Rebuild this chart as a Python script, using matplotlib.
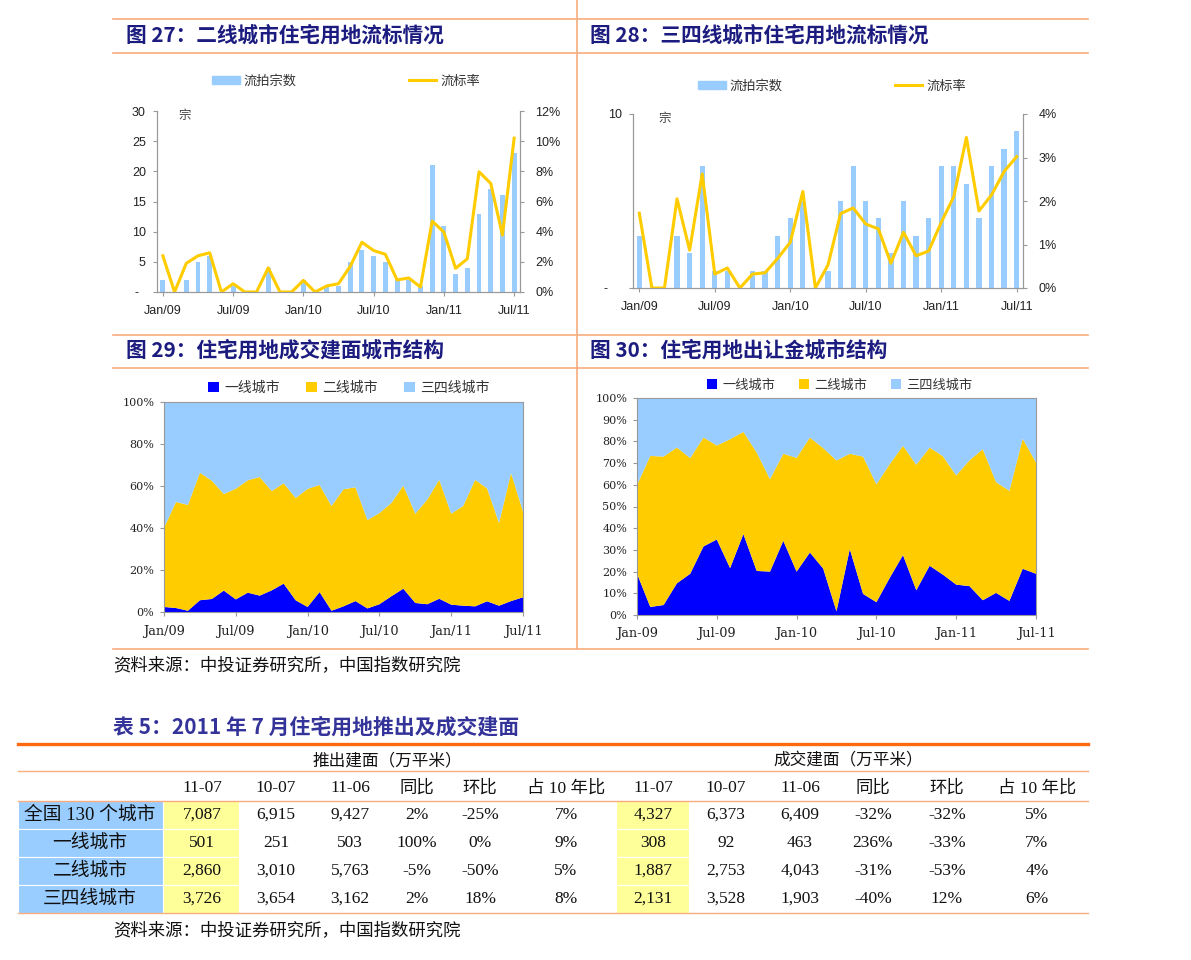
import matplotlib
matplotlib.use('Agg')
import matplotlib.pyplot as plt
from matplotlib.patches import Rectangle, Patch
from matplotlib.lines import Line2D

plt.rcParams['font.family'] = ['Noto Sans CJK SC', 'DejaVu Sans']
plt.rcParams['axes.unicode_minus'] = False

W, H = 1191, 960

# ---- data ----
months = list(range(31))
tick_pos = [0, 6, 12, 18, 24, 30]
ticks_slash = ['Jan/09', 'Jul/09', 'Jan/10', 'Jul/10', 'Jan/11', 'Jul/11']
ticks_dash = ['Jan-09', 'Jul-09', 'Jan-10', 'Jul-10', 'Jan-11', 'Jul-11']

# fig 27: tier-2 cities, failed auctions (count) and failure rate (%)
t2_count = [2, 0, 2, 5, 6, 0, 1, 0, 0, 4, 0, 0, 2, 0, 1, 1, 5, 7, 6, 5, 2, 2, 1,
            21, 11, 3, 4, 13, 17, 16, 23]
t2_rate = [2.4, 0, 1.9, 2.4, 2.6, 0, 0.55, 0, 0, 1.6, 0, 0, 0.77, 0, 0.4, 0.55,
           1.7, 3.3, 2.75, 2.5, 0.8, 0.93, 0.33, 4.7, 3.97, 1.57, 2.2, 7.97,
           7.2, 3.77, 10.2]

# fig 28: tier-3/4 cities
t34_count = [3, 0, 0, 3, 2, 7, 1, 1, 0, 1, 1, 3, 4, 5, 0, 1, 5, 7, 5, 4, 2, 5, 3,
             4, 7, 7, 6, 4, 7, 8, 9]
t34_rate = [1.72, 0, 0, 2.05, 0.87, 2.62, 0.32, 0.46, 0, 0.32, 0.35, 0.68, 1.05,
            2.22, 0, 0.53, 1.71, 1.84, 1.47, 1.36, 0.57, 1.28, 0.74, 0.85, 1.51,
            2.1, 3.46, 1.77, 2.14, 2.68, 3.02]

# fig 29: share of transacted floor area (%)
area_tier1 = [2.4, 1.9, 0.6, 5.6, 6.2, 10.2, 6.0, 9.2, 7.8, 10.3, 13.5, 5.6, 2.4,
              9.5, 0.6, 2.7, 5.2, 1.7, 3.7, 7.5, 11.1, 4.3, 3.7, 6.3, 3.5, 3.0,
              2.7, 5.1, 3.0, 5.2, 7.0]
area_tier2 = [37.6, 50.5, 50.4, 60.7, 56.3, 46.0, 52.7, 53.5, 56.5, 47.3, 47.8,
              48.7, 56.2, 51.0, 49.9, 55.7, 54.2, 42.1, 43.4, 44.4, 49.1, 42.5,
              49.8, 56.7, 43.3, 47.5, 60.2, 53.8, 39.4, 61.0, 40.9]
area_tier34 = [60.0, 47.6, 49.0, 33.7, 37.5, 43.8, 41.3, 37.3, 35.7, 42.4, 38.7,
               45.7, 41.4, 39.5, 49.5, 41.6, 40.6, 56.2, 52.9, 48.1, 39.8, 53.2,
               46.5, 37.0, 53.2, 49.5, 37.1, 41.1, 57.6, 33.8, 52.1]

# fig 30: share of land transfer fees (%)
fee_tier1 = [19.1, 3.7, 4.6, 14.6, 19.0, 31.6, 34.8, 21.6, 37.3, 20.3, 20.0, 34.2,
             20.0, 28.8, 21.4, 1.7, 30.4, 9.7, 5.9, 17.1, 27.6, 11.4, 22.7, 18.6,
             14.0, 13.3, 6.8, 10.2, 6.5, 21.3, 19.0]
fee_tier2 = [40.8, 69.6, 68.4, 62.6, 53.3, 50.2, 43.3, 59.4, 47.1, 54.6, 42.6, 40.1,
             52.4, 53.0, 55.5, 69.5, 43.9, 63.3, 54.3, 52.4, 50.4, 57.8, 54.5, 54.6,
             50.3, 58.0, 69.6, 51.0, 50.7, 59.9, 51.3]
fee_tier34 = [40.1, 26.7, 27.0, 22.8, 27.7, 18.2, 21.9, 19.0, 15.6, 25.1, 37.4, 25.7,
              27.6, 18.2, 23.1, 28.8, 25.7, 27.0, 39.8, 30.5, 22.0, 30.8, 22.8, 26.8,
              35.7, 28.7, 23.6, 38.8, 42.8, 18.8, 29.7]

# table 5
row_names = ['全国 130 个城市', '一线城市', '二线城市', '三四线城市']
col_heads = ['11-07', '10-07', '11-06', '同比', '环比', '占 10 年比']
sup_1107 = [7087, 501, 2860, 3726]
sup_1007 = [6915, 251, 3010, 3654]
sup_1106 = [9427, 503, 5763, 3162]
sup_yoy = [2, 100, -5, 2]
sup_mom = [-25, 0, -50, 18]
sup_share = [7, 9, 5, 8]
deal_1107 = [4327, 308, 1887, 2131]
deal_1007 = [6373, 92, 2753, 3528]
deal_1106 = [6409, 463, 4043, 1903]
deal_yoy = [-32, 236, -31, -40]
deal_mom = [-32, -33, -53, 12]
deal_share = [5, 7, 4, 6]

BAR = '#99CCFF'
YEL = '#FFCC00'
BLUE = '#0000FF'
ORANGE_THIN = '#F7AD7E'
ORANGE_THICK = '#FF6A10'
NAVY = '#1C1C80'
GRAY = '#999999'
SANS = ['Liberation Sans', 'Noto Sans CJK SC']
SERIF = ['DejaVu Serif', 'Noto Sans CJK SC']
TSERIF = ['Liberation Serif', 'Noto Sans CJK SC']


def box(x0, y0, x1, y1):
    return [x0 / W, 1 - y1 / H, (x1 - x0) / W, (y1 - y0) / H]


fig = plt.figure(figsize=(W / 100, H / 100), dpi=100)

# page overlay in pixel coordinates
bg = fig.add_axes([0, 0, 1, 1], zorder=0)
bg.set_xlim(0, W)
bg.set_ylim(H, 0)
bg.axis('off')

for y in [19, 53, 335, 368, 649]:
    bg.plot([113, 1088], [y, y], color=ORANGE_THIN, lw=1.2)
bg.plot([577, 577], [0, 649], color=ORANGE_THIN, lw=1.2)

titles = [(126, 35, '图 27：二线城市住宅用地流标情况'),
          (590, 35, '图 28：三四线城市住宅用地流标情况'),
          (126, 350, '图 29：住宅用地成交建面城市结构'),
          (590, 350, '图 30：住宅用地出让金城市结构')]
for x, y, t in titles:
    bg.text(x, y, t, fontsize=14.9, fontweight='bold', color=NAVY,
            ha='left', va='center')

bg.text(113, 665, '资料来源：中投证券研究所，中国指数研究院', fontsize=12.5,
        color='#111111', ha='left', va='center')


def flow_chart(rect, counts, rates, ymax, yticks, ylabels, rmax, rticks,
               zong_xy, leg_center):
    ax = fig.add_axes(box(*rect), zorder=2)
    ax2 = ax.twinx()
    bars = ax.bar(months, counts, width=0.42, color=BAR, zorder=2)
    line, = ax2.plot(months, rates, color=YEL, lw=2.2)
    ax.set_xlim(-0.5, 30.5)
    ax.set_ylim(0, ymax)
    ax2.set_ylim(0, rmax)
    ax.set_yticks(yticks)
    ax.set_yticklabels(ylabels, family=SANS, fontsize=9)
    ax2.set_yticks(rticks)
    ax2.set_yticklabels([f'{v}%' for v in rticks], family=SANS, fontsize=9)
    ax.set_xticks(tick_pos)
    ax.set_xticklabels(ticks_slash, family=SANS, fontsize=9)
    for a in (ax, ax2):
        a.spines['top'].set_visible(False)
        for s in ['left', 'right', 'bottom']:
            a.spines[s].set_color(GRAY)
            a.spines[s].set_linewidth(0.8)
        a.tick_params(length=3, color=GRAY, width=0.8, labelcolor='#222222')
    ax.tick_params(axis='x', pad=6)
    ax.tick_params(axis='y', pad=5)
    ax2.tick_params(axis='y', pad=8)
    ax.text(zong_xy[0], zong_xy[1], '宗', transform=ax.transAxes, fontsize=9,
            color='#444444', ha='left', va='center')
    fig.legend([Patch(color=BAR), Line2D([], [], color=YEL, lw=2.2)],
               ['流拍宗数', '流标率'], loc='center',
               bbox_to_anchor=(leg_center[0] / W, 1 - leg_center[1] / H),
               ncol=2, frameon=False, fontsize=9.5, handlelength=2.1,
               handleheight=0.6, handletextpad=0.3, columnspacing=8.5,
               labelcolor='#333333')


flow_chart((157, 111, 520, 292), t2_count, t2_rate, 30, range(0, 31, 5),
           ['-  '] + [str(v) for v in range(5, 31, 5)], 12, list(range(0, 13, 2)),
           (0.06, 0.975), (346, 81))
flow_chart((633, 114, 1023, 288), t34_count, t34_rate, 10, [0, 10],
           ['-    ', '10'], 4, [0, 1, 2, 3, 4], (0.065, 0.975), (832, 86))


def share_chart(rect, s1, s2, s3, yticks, xlabels, leg_center, legsize, colsp):
    ax = fig.add_axes(box(*rect), zorder=2)
    polys = ax.stackplot(months, s1, s2, s3, colors=[BLUE, YEL, BAR], lw=0)
    ax.set_xlim(0, 30)
    ax.set_ylim(0, 100)
    ax.set_yticks(yticks)
    ax.set_yticklabels([f'{v}%' for v in yticks], family=SERIF, fontsize=8)
    ax.set_xticks(tick_pos)
    ax.set_xticklabels(xlabels, family=SERIF, fontsize=9.3)
    for s in ax.spines.values():
        s.set_color(GRAY)
        s.set_linewidth(0.8)
    ax.tick_params(length=3, color=GRAY, width=0.8, labelcolor='#222222')
    ax.tick_params(axis='x', pad=6)
    ax.tick_params(axis='y', pad=4)
    fig.legend(polys, ['一线城市', '二线城市', '三四线城市'], loc='center',
               bbox_to_anchor=(leg_center[0] / W, 1 - leg_center[1] / H),
               ncol=3, frameon=False, fontsize=legsize, handlelength=0.75,
               handleheight=0.75, handletextpad=0.4, columnspacing=colsp,
               labelcolor='#333333')


share_chart((164, 402, 523, 612), area_tier1, area_tier2, area_tier34,
            list(range(0, 101, 20)), ticks_slash, (349, 388), 10, 1.9)
share_chart((637, 398, 1036, 615), fee_tier1, fee_tier2, fee_tier34,
            list(range(0, 101, 10)), ticks_dash, (840, 385), 9.5, 1.8)

# ---- table 5 ----
bg.text(113, 727, '表 5：2011 年 7 月住宅用地推出及成交建面', fontsize=15,
        fontweight='bold', color='#333399', ha='left', va='center')
bg.plot([18, 1088], [744, 744], color=ORANGE_THICK, lw=2.4)
for y in [771, 801, 913]:
    bg.plot([18, 1088], [y, y], color=ORANGE_THIN, lw=1.0)

row_top = [801, 829, 857, 885]
for yt in row_top:
    bg.add_patch(Rectangle((18, yt), 145, 28, facecolor=BAR, edgecolor='white', lw=0.8))
    bg.add_patch(Rectangle((163, yt), 76, 28, facecolor='#FFFF99', edgecolor='white', lw=0.8))
    bg.add_patch(Rectangle((616, yt), 73, 28, facecolor='#FFFF99', edgecolor='white', lw=0.8))

bg.text(387, 761, '推出建面（万平米）', fontsize=12, color='#111111', ha='center', va='center')
bg.text(848, 761, '成交建面（万平米）', fontsize=12, color='#111111', ha='center', va='center')

left_x = [202, 276, 350, 417, 480, 566]
right_x = [653, 726, 800, 873, 947, 1037]
for xs in (left_x, right_x):
    for x, h in zip(xs, col_heads):
        bg.text(x, 788, h, fontsize=12.5, family=TSERIF, color='#111111',
                ha='center', va='center')

left_cols = [[f'{v:,}' for v in sup_1107], [f'{v:,}' for v in sup_1007],
             [f'{v:,}' for v in sup_1106], [f'{v}%' for v in sup_yoy],
             [f'{v}%' for v in sup_mom], [f'{v}%' for v in sup_share]]
right_cols = [[f'{v:,}' for v in deal_1107], [f'{v:,}' for v in deal_1007],
              [f'{v:,}' for v in deal_1106], [f'{v}%' for v in deal_yoy],
              [f'{v}%' for v in deal_mom], [f'{v}%' for v in deal_share]]

for i, name in enumerate(row_names):
    yc = row_top[i] + 14
    bg.text(90, yc, name, fontsize=13.5, family=TSERIF, color='#111111',
            ha='center', va='center')
    for xs, cols in ((left_x, left_cols), (right_x, right_cols)):
        for x, col in zip(xs, cols):
            bg.text(x, yc, col[i], fontsize=12.5, family=TSERIF, color='#111111',
                    ha='center', va='center')

bg.text(113, 930, '资料来源：中投证券研究所，中国指数研究院', fontsize=12.5,
        color='#111111', ha='left', va='center')

fig.savefig('out.png', dpi=100)
